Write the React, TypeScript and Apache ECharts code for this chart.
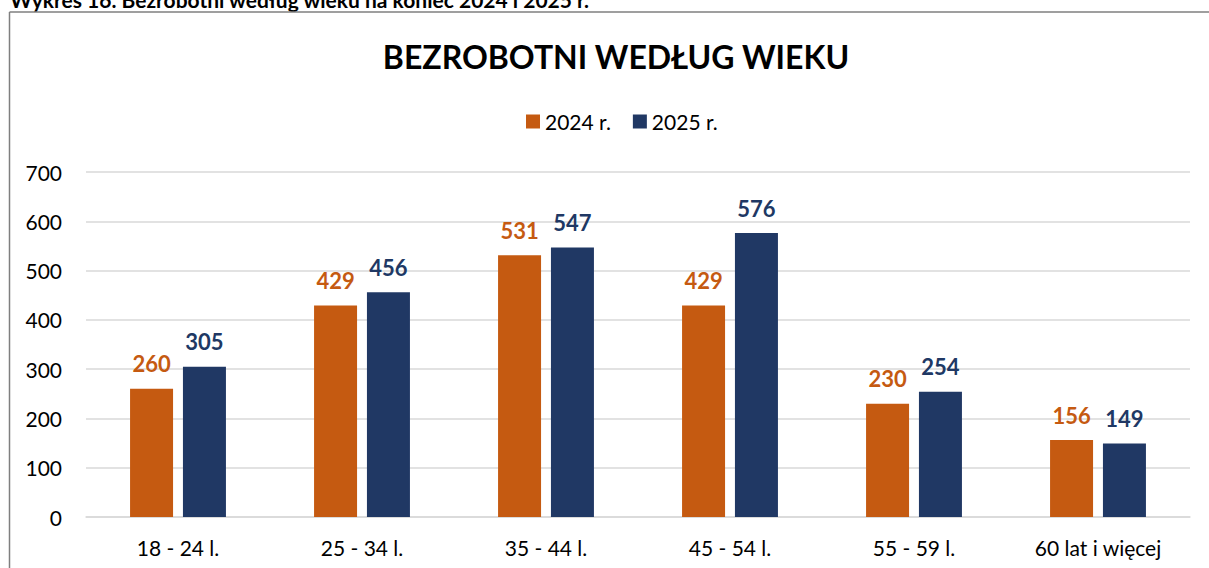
import React, { useEffect, useRef } from "react";
import * as echarts from "echarts";

const categories = ["18 - 24 l.", "25 - 34 l.", "35 - 44 l.", "45 - 54 l.", "55 - 59 l.", "60 lat i więcej"];
const values2024 = [260, 429, 531, 429, 230, 156];
const values2025 = [305, 456, 547, 576, 254, 149];
const seriesNames = ["2024 r.", "2025 r."];
const yTicks = { min: 0, max: 700, interval: 100 };

const ORANGE = "#C55A11";
const NAVY = "#203864";
const FONT = "Lato, 'Open Sans', sans-serif";

export default function App() {
  const ref = useRef<HTMLDivElement>(null);
  useEffect(() => {
    if (!ref.current) return;
    const chart = echarts.init(ref.current, null, { renderer: "svg" });
    const labelStyle = (color: string) => ({
      show: true,
      position: "top" as const,
      distance: 14,
      color,
      fontFamily: FONT,
      fontWeight: "bold" as const,
      fontSize: 22,
    });
    chart.setOption({
      animation: false,
      backgroundColor: "#ffffff",
      title: {
        text: "BEZROBOTNI WEDŁUG WIEKU",
        left: 611,
        textAlign: "center",
        top: 35,
        textStyle: { fontFamily: FONT, fontWeight: "bold", fontSize: 32, color: "#000" },
      },
      legend: {
        data: seriesNames,
        left: 521,
        top: 106,
        itemWidth: 14,
        itemHeight: 14,
        itemGap: 22,
        icon: "rect",
        textStyle: { fontFamily: FONT, fontSize: 21, color: "#000" },
      },
      graphic: [
        {
          type: "text",
          left: 10,
          top: -11,
          style: {
            text: "Wykres 16. Bezrobotni według wieku na koniec 2024 i 2025 r.",
            fontFamily: FONT,
            fontWeight: "bold",
            fontSize: 21,
            fill: "#000",
          },
        },
        {
          type: "line",
          shape: { x1: 9.5, y1: 12, x2: 1209, y2: 12 },
          style: { stroke: "#7f7f7f", lineWidth: 1.5 },
        },
        {
          type: "line",
          shape: { x1: 9.5, y1: 12, x2: 9.5, y2: 568 },
          style: { stroke: "#7f7f7f", lineWidth: 1.5 },
        },
      ],
      grid: { left: 86, right: 19, top: 172, bottom: 51, containLabel: false },
      xAxis: {
        type: "category",
        data: categories,
        axisLine: { show: true, lineStyle: { color: "#d9d9d9", width: 1.5 } },
        axisTick: { show: false },
        axisLabel: { fontFamily: FONT, fontSize: 21, color: "#000", margin: 20 },
      },
      yAxis: {
        type: "value",
        min: yTicks.min,
        max: yTicks.max,
        interval: yTicks.interval,
        axisLine: { show: false },
        axisTick: { show: false },
        axisLabel: { fontFamily: FONT, fontSize: 21, color: "#000", margin: 24 },
        splitLine: { lineStyle: { color: "#d9d9d9", width: 1.5 } },
      },
      series: [
        {
          name: seriesNames[0],
          type: "bar",
          data: values2024,
          barWidth: 43,
          barGap: "23%",
          itemStyle: { color: ORANGE },
          label: labelStyle(ORANGE),
        },
        {
          name: seriesNames[1],
          type: "bar",
          data: values2025,
          barWidth: 43,
          barGap: "23%",
          itemStyle: { color: NAVY },
          label: labelStyle(NAVY),
        },
      ],
    });
    return () => chart.dispose();
  }, []);
  return (
    <div
      ref={ref}
      style={{ position: "fixed", left: 0, top: 0, width: 1209, height: 568 }}
    />
  );
}
